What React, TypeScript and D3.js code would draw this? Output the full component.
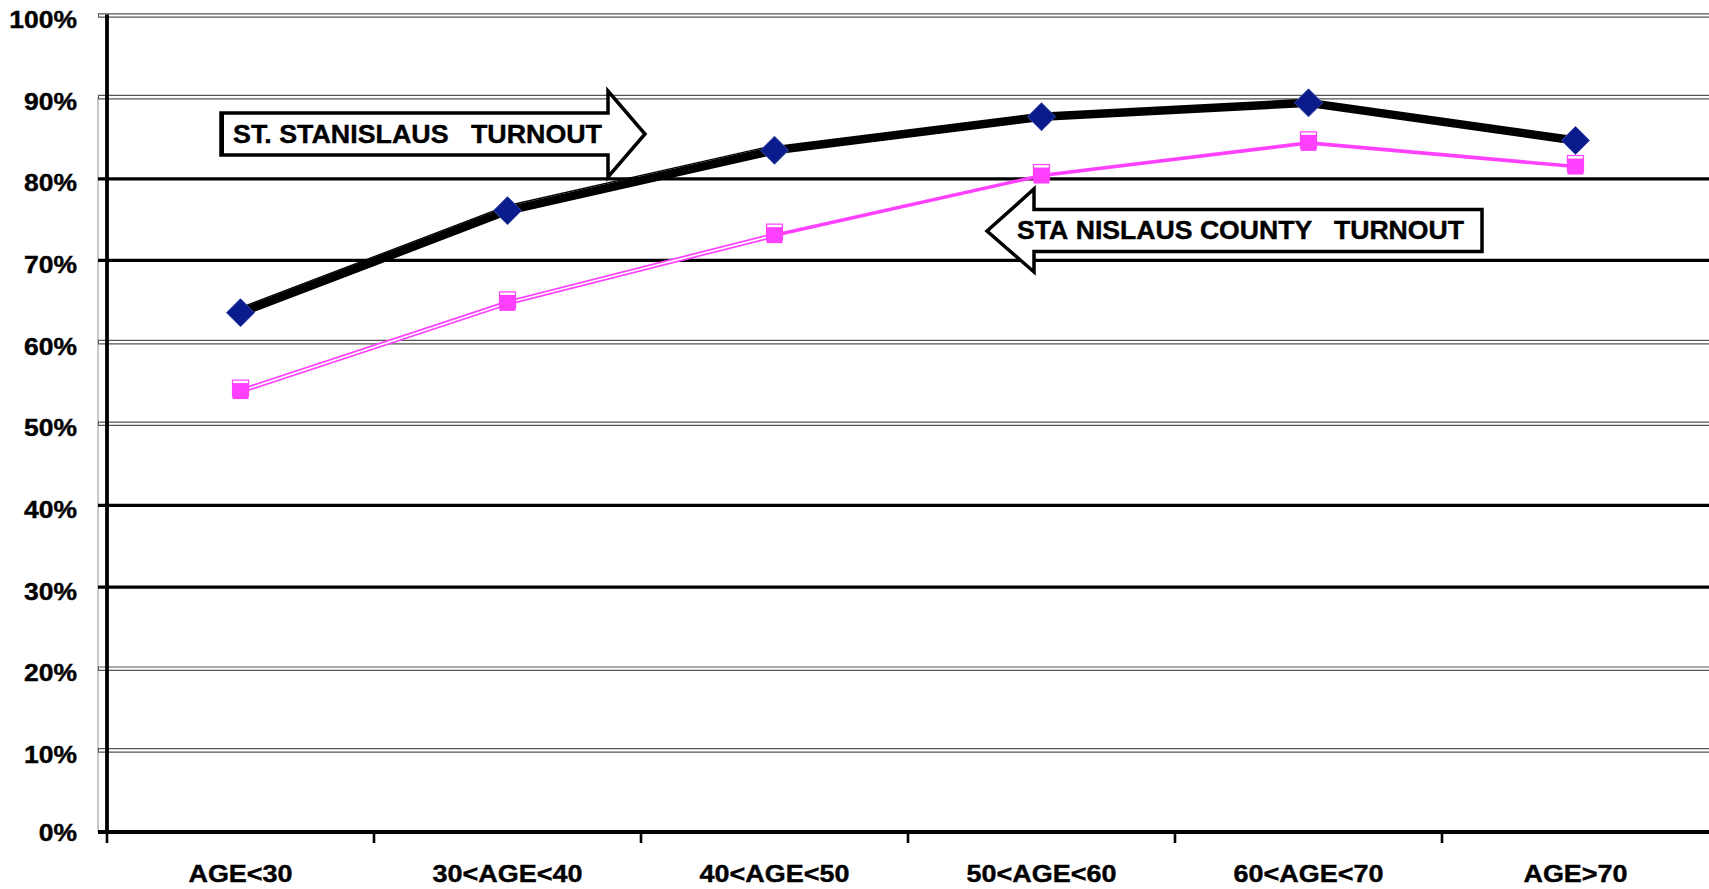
import React from "react";
import * as d3 from "d3";

const categories = ["AGE<30", "30<AGE<40", "40<AGE<50", "50<AGE<60", "60<AGE<70", "AGE>70"];
const stStanislaus = [0.636, 0.761, 0.835, 0.876, 0.893, 0.847];
const county = [0.54, 0.648, 0.731, 0.804, 0.844, 0.815];
const yTicks = [0, 0.1, 0.2, 0.3, 0.4, 0.5, 0.6, 0.7, 0.8, 0.9, 1.0];
const solidGrid = [0.3, 0.4, 0.7, 0.8];

const W = 1709;
const H = 889;
const FONT = "'Liberation Sans', Arial, Helvetica, sans-serif";

export default function App() {
  const x = d3.scaleBand<string>().domain(categories).range([107, 1709]);
  const y = d3.scaleLinear().domain([0, 1]).range([832, 15.5]);
  const cx = (c: string) => (x(c) as number) + x.bandwidth() / 2;

  const line = d3
    .line<number>()
    .x((_, i) => cx(categories[i]))
    .y((d) => y(d));

  const pinkLine = d3
    .line<[string, number]>()
    .x((d) => cx(d[0]))
    .y((d) => y(d[1]));

  const pinkPairs: [string, number][] = categories.map((c, i) => [c, county[i]]);
  const blackPairs: [string, number][] = categories.map((c, i) => [c, stStanislaus[i]]);

  const gridIsSolid = (t: number) => solidGrid.some((s) => Math.abs(s - t) < 1e-6);

  return (
    <svg
      width={W}
      height={H}
      style={{ position: "fixed", left: 0, top: 0, background: "#fff" }}
      fontFamily={FONT}
    >
      <rect x={0} y={0} width={W} height={H} fill="#fff" />
      {/* light gray vertical line left of axis */}
      <line x1={98} x2={98} y1={y(0.9)} y2={y(0)} stroke="#c8c8c8" strokeWidth={2} />

      {/* gridlines */}
      {yTicks.slice(1).map((t) =>
        gridIsSolid(t) ? (
          <line key={t} x1={98} x2={W} y1={y(t)} y2={y(t)} stroke="#000" strokeWidth={3.2} />
        ) : (
          <g key={t}>
            <line x1={98} x2={W} y1={y(t) - 1.7} y2={y(t) - 1.7} stroke="#555" strokeWidth={1.2} />
            <line x1={98} x2={W} y1={y(t) + 1.7} y2={y(t) + 1.7} stroke="#555" strokeWidth={1.2} />
            <line x1={98.5} x2={98.5} y1={y(t) - 1.7} y2={y(t) + 1.7} stroke="#555" strokeWidth={1} />
          </g>
        )
      )}

      {/* y axis */}
      <line x1={107} x2={107} y1={y(1) - 1} y2={y(0) + 2} stroke="#000" strokeWidth={3.8} />
      {/* x axis */}
      <line x1={98} x2={W} y1={y(0)} y2={y(0)} stroke="#000" strokeWidth={4} />
      {categories.map((c) => (
        <line
          key={"t" + c}
          x1={x(c) as number}
          x2={x(c) as number}
          y1={y(0)}
          y2={y(0) + 11}
          stroke="#000"
          strokeWidth={2.6}
        />
      ))}

      {/* y tick labels */}
      {yTicks.map((t) => (
        <text
          key={"yl" + t}
          transform={`translate(77, ${y(t) + (t === 0 ? 9 : 12.5)}) scale(1.08,1)`}
          textAnchor="end"
          fontSize={24.5}
          fontWeight="bold"
          fill="#000"
          stroke="#000"
          strokeWidth={0.4}
        >
          {d3.format(".0%")(t)}
        </text>
      ))}

      {/* x labels */}
      {categories.map((c) => (
        <text
          key={"xl" + c}
          transform={`translate(${cx(c)}, 882) scale(1.1,1)`}
          textAnchor="middle"
          fontSize={24.5}
          fontWeight="bold"
          fill="#000"
          stroke="#000"
          strokeWidth={0.4}
        >
          {c}
        </text>
      ))}

      {/* callout arrows */}
      <path
        d="M221,113 H608 V91 L645,134 L608,177 V155 H221 Z"
        fill="#fff"
        stroke="#000"
        strokeWidth={3.5}
        strokeLinejoin="miter"
      />
      <line x1={222} x2={222} y1={113} y2={155} stroke="#000" strokeWidth={4} />
      <text
        x={233}
        y={143}
        fontSize={26}
        fontWeight="bold"
        textLength={369}
        lengthAdjust="spacingAndGlyphs"
        stroke="#000"
        strokeWidth={0.4}
        style={{ whiteSpace: "pre" }}
      >
        {"ST. STANISLAUS   TURNOUT"}
      </text>

      <path
        d="M987,231 L1034,189 V209.5 H1482 V251.5 H1034 V272 Z"
        fill="#fff"
        stroke="#000"
        strokeWidth={3.5}
        strokeLinejoin="miter"
      />
      <text
        x={1017}
        y={239}
        fontSize={25}
        fontWeight="bold"
        textLength={447}
        lengthAdjust="spacingAndGlyphs"
        stroke="#000"
        strokeWidth={0.4}
        style={{ whiteSpace: "pre" }}
      >
        {"STA"}
        <tspan dx={7}>{"NISLAUS COUNTY   TURNOUT"}</tspan>
      </text>

      {/* county series (pink) */}
      <path d={pinkLine(pinkPairs.slice(0, 3)) || ""} fill="none" stroke="#ff40ff" strokeWidth={5} />
      <path d={pinkLine(pinkPairs.slice(0, 3)) || ""} fill="none" stroke="#fff" strokeWidth={1.6} />
      <path d={pinkLine(pinkPairs.slice(2)) || ""} fill="none" stroke="#ff40ff" strokeWidth={3.6} />
      {pinkPairs.map(([c, v]) => (
        <g key={"pm" + c}>
          <rect x={cx(c) - 8} y={y(v) - 11} width={16} height={16} fill="none" stroke="#ff40ff" strokeWidth={1.2} />
          <rect x={cx(c) - 8} y={y(v) - 8} width={16} height={16} fill="#ff40ff" />
        </g>
      ))}

      {/* St. Stanislaus series (black line, navy diamonds) */}
      <path
        d={line(stStanislaus.slice(0, 3)) || ""}
        transform="translate(0,-5)"
        fill="none"
        stroke="#000"
        strokeWidth={1.3}
      />
      <path d={line(stStanislaus) || ""} fill="none" stroke="#000" strokeWidth={8.5} strokeLinejoin="round" />
      {blackPairs.map(([c, v]) => (
        <path
          key={"bm" + c}
          d={`M${cx(c)},${y(v) - 14} L${cx(c) + 14},${y(v)} L${cx(c)},${y(v) + 14} L${cx(c) - 14},${y(v)} Z`}
          fill="#0a1b8c"
          stroke="#3a4aa8"
          strokeWidth={1}
        />
      ))}
    </svg>
  );
}
